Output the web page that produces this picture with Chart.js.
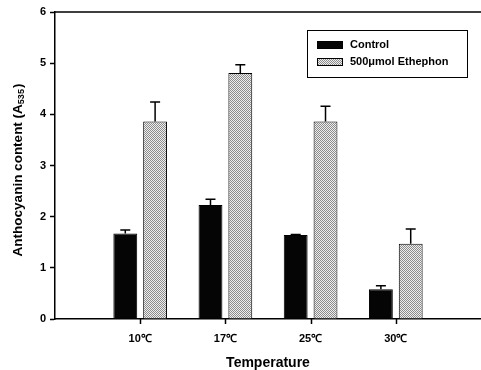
<!DOCTYPE html>
<html lang="en">
<head>
    <meta charset="UTF-8">
    <title>Anthocyanin content by temperature</title>
    <script src="https://cdn.jsdelivr.net/npm/chart.js"></script>
    <style>
        html, body { margin: 0; padding: 0; background: #fff; }
        #wrap { width: 481px; height: 370px; }
    </style>
</head>
<body>
    <div id="wrap"><canvas id="barChart" width="481" height="370"></canvas></div>
    <script>
        var categories = ['10\u2103', '17\u2103', '25\u2103', '30\u2103'];
        var control = [1.67, 2.23, 1.64, 0.58];
        var controlErr = [0.07, 0.11, 0.01, 0.07];
        var ethephon = [3.86, 4.81, 3.86, 1.47];
        var ethephonErr = [0.38, 0.16, 0.30, 0.29];
        var yTicks = [0, 1, 2, 3, 4, 5, 6];

        var FONT = 'Arial, "Liberation Sans", sans-serif';

        // stippled grey fill for the ethephon bars
        function stipple() {
            var c = document.createElement('canvas');
            c.width = 4; c.height = 4;
            var g = c.getContext('2d');
            g.fillStyle = '#eeeeee';
            g.fillRect(0, 0, 4, 4);
            g.fillStyle = '#8c8c8c';
            for (var i = 0; i < 4; i++) {
                for (var j = 0; j < 4; j++) {
                    if ((i + j) % 2 === 0) g.fillRect(i, j, 1, 1);
                }
            }
            return g.createPattern(c, 'repeat');
        }
        var ctx = document.getElementById('barChart').getContext('2d');
        var grey = stipple();

        // empty slots at both ends give the wide margins around the groups
        var labels = [''].concat(categories, ['']);
        function pad(a) { return [null].concat(a, [null]); }

        var errorBars = {
            id: 'errorBars',
            afterDatasetsDraw: function (chart) {
                var y = chart.scales.y;
                var c = chart.ctx;
                c.save();
                c.strokeStyle = '#000';
                c.lineWidth = 1.5;
                chart.data.datasets.forEach(function (ds, di) {
                    var meta = chart.getDatasetMeta(di);
                    meta.data.forEach(function (bar, i) {
                        var v = ds.data[i];
                        if (v === null) return;
                        var top = y.getPixelForValue(v + ds.errors[i]);
                        c.beginPath();
                        c.moveTo(bar.x, bar.y);
                        c.lineTo(bar.x, top);
                        c.moveTo(bar.x - 5, top);
                        c.lineTo(bar.x + 5, top);
                        c.stroke();
                    });
                });
                c.restore();
            }
        };

        var frame = {
            id: 'frame',
            afterDraw: function (chart) {
                var a = chart.chartArea;
                var x = chart.scales.x;
                var c = chart.ctx;
                c.save();
                c.strokeStyle = '#000';
                c.lineWidth = 1.5;
                c.beginPath();
                // top border
                c.moveTo(a.left, a.top);
                c.lineTo(a.right, a.top);
                // category tick marks under the axis
                categories.forEach(function (cat) {
                    var px = Math.round(x.getPixelForValue(labels.indexOf(cat))) + 0.5;
                    c.moveTo(px, a.bottom);
                    c.lineTo(px, a.bottom + 5);
                });
                c.stroke();

                // y axis title with subscript
                c.fillStyle = '#000';
                c.translate(18, 170);
                c.rotate(-Math.PI / 2);
                var main = 'Anthocyanin content (A';
                var sub = '535';
                var tail = ')';
                c.font = 'bold 13.5px ' + FONT;
                var w1 = c.measureText(main).width;
                var w3 = c.measureText(tail).width;
                c.font = 'bold 9px ' + FONT;
                var w2 = c.measureText(sub).width;
                var x0 = -(w1 + w2 + w3 + 1) / 2;
                c.textBaseline = 'middle';
                c.font = 'bold 13.5px ' + FONT;
                c.fillText(main, x0, 0);
                c.font = 'bold 9px ' + FONT;
                c.fillText(sub, x0 + w1, 4);
                c.font = 'bold 13.5px ' + FONT;
                c.fillText(tail, x0 + w1 + w2 + 1, 0);
                c.restore();

                // legend box
                c.save();
                var lx = 307, ly = 30, lw = 160, lh = 47;
                c.fillStyle = '#fff';
                c.fillRect(lx, ly, lw, lh);
                c.strokeStyle = '#000';
                c.lineWidth = 1;
                c.strokeRect(lx + 0.5, ly + 0.5, lw, lh);
                c.font = 'bold 11px ' + FONT;
                c.textBaseline = 'middle';
                chart.data.datasets.forEach(function (ds, i) {
                    var cy = ly + 15 + i * 17;
                    c.fillStyle = ds.backgroundColor;
                    c.fillRect(lx + 10, cy - 4, 26, 8);
                    c.strokeStyle = '#000';
                    c.strokeRect(lx + 10.5, cy - 3.5, 25, 7);
                    c.fillStyle = '#000';
                    c.fillText(ds.label, lx + 43, cy);
                });
                c.restore();
            }
        };

        var barChart = new Chart(ctx, {
            type: 'bar',
            data: {
                labels: labels,
                datasets: [{
                    label: 'Control',
                    data: pad(control),
                    errors: pad(controlErr),
                    backgroundColor: '#050505',
                    borderColor: '#000',
                    borderWidth: 1,
                    categoryPercentage: 0.70,
                    barPercentage: 0.80
                }, {
                    label: '500\u03bcmol Ethephon',
                    data: pad(ethephon),
                    errors: pad(ethephonErr),
                    backgroundColor: grey,
                    borderColor: '#000',
                    borderWidth: 1,
                    categoryPercentage: 0.70,
                    barPercentage: 0.80
                }]
            },
            options: {
                responsive: false,
                animation: false,
                layout: { padding: { top: 12, right: 0, left: 0, bottom: 0 } },
                plugins: {
                    legend: { display: false },
                    tooltip: { enabled: false }
                },
                scales: {
                    x: {
                        offset: false,
                        afterFit: function (s) {
                            s.height = 51;
                            s.paddingLeft = 0;
                            s.paddingRight = 0;
                        },
                        grid: {
                            display: false,
                            drawTicks: false,
                            offset: false
                        },
                        border: { color: '#000', width: 1.5 },
                        ticks: {
                            color: '#000',
                            padding: 13,
                            maxRotation: 0,
                            autoSkip: false,
                            font: { family: FONT, size: 11, weight: 'bold' }
                        },
                        title: {
                            display: true,
                            text: 'Temperature',
                            color: '#000',
                            padding: { top: 0, bottom: 0 },
                            font: { family: FONT, size: 14, weight: 'bold', lineHeight: 1 }
                        }
                    },
                    y: {
                        min: 0,
                        max: 6,
                        afterFit: function (s) { s.width = 55; },
                        afterBuildTicks: function (s) {
                            s.ticks = yTicks.map(function (v) { return { value: v }; });
                        },
                        grid: {
                            drawOnChartArea: false,
                            tickLength: 5,
                            tickWidth: 1.5,
                            color: '#000'
                        },
                        border: { color: '#000', width: 1.5 },
                        ticks: {
                            color: '#000',
                            padding: 4,
                            font: { family: FONT, size: 11, weight: 'bold' }
                        }
                    }
                }
            },
            plugins: [errorBars, frame]
        });
    </script>
</body>
</html>
